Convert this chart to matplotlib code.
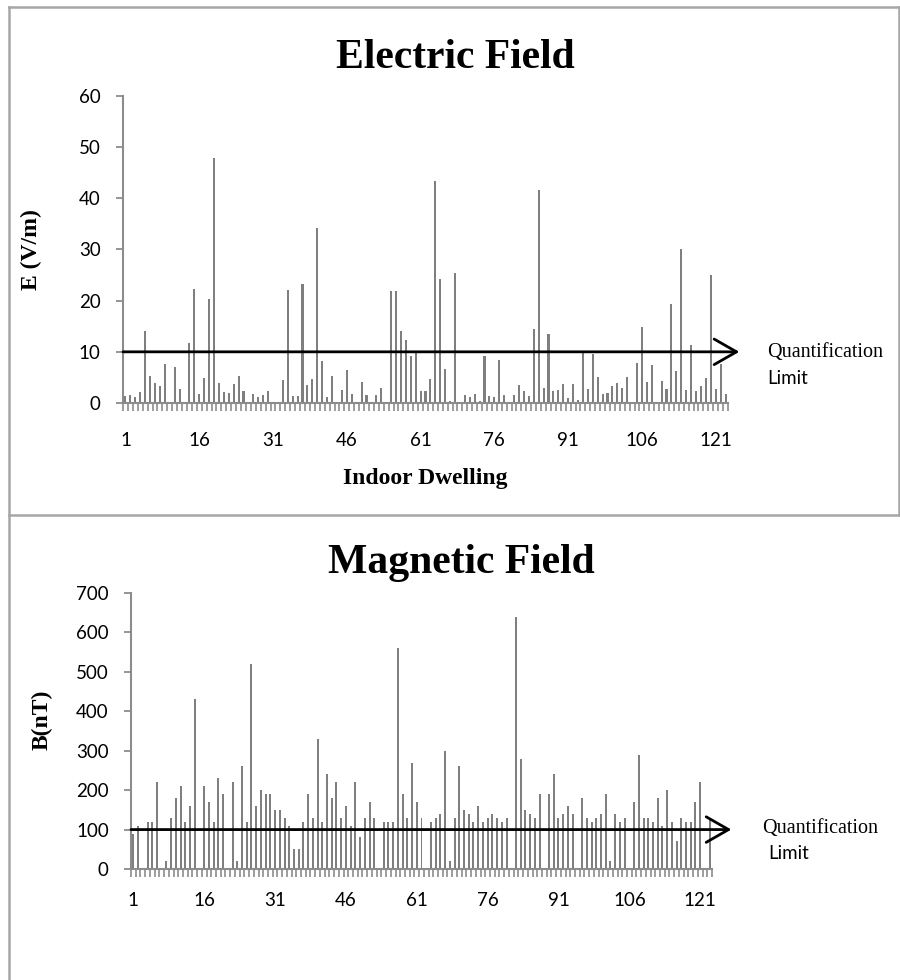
import numpy as np
import matplotlib
matplotlib.use("Agg")
import matplotlib.pyplot as plt
from matplotlib.lines import Line2D

# ---------------- data ----------------
e_values = [1.4, 1.5, 1.2, 2.2, 14.1, 5.2, 3.9, 3.4, 7.7, 0,
            7.1, 2.7, 0, 11.8, 22.3, 1.8, 4.9, 20.3, 47.8, 3.9,
            2.1, 1.9, 3.8, 5.3, 2.3, 0, 1.8, 1.1, 1.6, 2.3,
            0, 0, 4.5, 22.1, 1.3, 1.3, 23.2, 3.6, 4.7, 34.2,
            8.3, 1.2, 5.2, 0, 2.5, 6.5, 1.8, 0, 4.2, 1.6,
            0, 1.5, 3.0, 0, 21.8, 21.8, 14.1, 12.4, 9.2, 9.9,
            2.3, 2.4, 4.7, 43.3, 24.3, 6.7, 0.3, 25.4, 0, 1.6,
            1.2, 1.8, 0.4, 9.1, 1.3, 1.2, 8.5, 1.6, 0, 1.6,
            3.6, 2.3, 1.3, 14.5, 41.7, 2.9, 13.5, 2.4, 2.5, 3.8,
            1.0, 3.8, 0.5, 9.9, 2.7, 9.5, 5.0, 1.8, 1.9, 3.4,
            4.0, 3.0, 5.1, 0.2, 7.8, 14.9, 4.2, 7.5, 0, 4.3,
            2.8, 19.4, 6.2, 30.0, 2.6, 11.4, 2.3, 3.3, 4.9, 25.1,
            2.7, 7.7, 1.8]

b_values = [90, 110, 0, 120, 120, 220, 0, 20, 130, 180,
            210, 120, 160, 430, 0, 210, 170, 120, 230, 190,
            0, 220, 20, 260, 120, 520, 160, 200, 190, 190,
            150, 150, 130, 110, 50, 50, 120, 190, 130, 330,
            120, 240, 180, 220, 130, 160, 110, 220, 80, 130,
            170, 130, 0, 120, 120, 120, 560, 190, 130, 270,
            170, 130, 0, 120, 130, 140, 300, 20, 130, 260,
            150, 140, 120, 160, 120, 130, 140, 130, 120, 130,
            0, 640, 280, 150, 140, 130, 190, 0, 190, 240,
            130, 140, 160, 140, 0, 180, 130, 120, 130, 140,
            190, 20, 140, 120, 130, 0, 170, 290, 130, 130,
            120, 180, 110, 200, 120, 70, 130, 120, 120, 170,
            220, 0, 130]

dwellings = np.arange(1, len(e_values) + 1)
tick_labels = [1, 16, 31, 46, 61, 76, 91, 106, 121]
e_limit = 10
b_limit = 100

# ---------------- style ----------------
W, H = 900, 980
fig = plt.figure(figsize=(W / 100, H / 100), dpi=100)
fig.patch.set_facecolor("white")

serif = ["Liberation Serif", "DejaVu Serif"]
sans = ["Lato", "DejaVu Sans"]
bar_color = "#7f7f7f"
axis_color = "#8c8c8c"


def fx(px):
    return px / W


def fy(py):
    return 1 - py / H


def make_panel(rect, values, ymax, ystep, limit, tip_x, lab_pad):
    ax = fig.add_axes(rect)
    ax.bar(dwellings, values, width=0.42, color=bar_color, linewidth=0)
    n = len(values)
    ax.set_xlim(0.5, n + 0.5)
    ax.set_ylim(0, ymax)
    for s in ["top", "right"]:
        ax.spines[s].set_visible(False)
    for s in ["left", "bottom"]:
        ax.spines[s].set_color(axis_color)
        ax.spines[s].set_linewidth(1.5)
    ax.set_yticks(np.arange(0, ymax + 1, ystep))
    ax.tick_params(axis="y", direction="out", length=5, width=1.3,
                   color=axis_color, pad=11, labelsize=13.5)
    ax.set_xticks(np.arange(0.5, n + 1, 1.0))
    ax.set_xticklabels([])
    ax.set_xticks(tick_labels, minor=True)
    ax.set_xticklabels([str(t) for t in tick_labels], minor=True)
    ax.tick_params(axis="x", which="major", direction="out", length=6,
                   width=1.2, color=axis_color)
    ax.tick_params(axis="x", which="minor", length=0, pad=lab_pad,
                   labelsize=13.5)
    for lab in ax.get_xticklabels(minor=True) + ax.get_yticklabels():
        lab.set_fontfamily(sans)
    ax.annotate("", xy=(tip_x, limit), xytext=(0.5, limit),
                xycoords="data", textcoords="data", annotation_clip=False,
                arrowprops=dict(arrowstyle="->,head_length=0.7,head_width=0.4",
                                lw=2, color="black", mutation_scale=23,
                                shrinkA=0, shrinkB=0))
    return ax


ax1 = make_panel([fx(123), fy(403), fx(728) - fx(123), fy(96) - fy(403)],
                 e_values, 60, 10, e_limit, 125.8, 21)
ax2 = make_panel([fx(131), fy(869), fx(712) - fx(131), fy(593) - fy(869)],
                 b_values, 700, 100, b_limit, 127.6, 16.5)

# titles and labels
fig.text(fx(455), fy(58), "Electric Field", ha="center", va="center",
         fontsize=30, fontweight="bold", family=serif)
fig.text(fx(461), fy(563), "Magnetic Field", ha="center", va="center",
         fontsize=30, fontweight="bold", family=serif)
fig.text(fx(31), fy(250), "E (V/m)", ha="center", va="center", rotation=90,
         fontsize=17, fontweight="bold", family=serif)
fig.text(fx(42), fy(720), "B(nT)", ha="center", va="center", rotation=90,
         fontsize=17, fontweight="bold", family=serif)
fig.text(fx(425), fy(478), "Indoor Dwelling", ha="center", va="center",
         fontsize=17, fontweight="bold", family=serif)

# quantification limit notes
fig.text(fx(767), fy(352), "Quantification", ha="left", va="center",
         fontsize=14.5, family=serif)
fig.text(fx(767), fy(378), "Limit", ha="left", va="center",
         fontsize=13.5, family=sans)
fig.text(fx(762), fy(828), "Quantification", ha="left", va="center",
         fontsize=14.5, family=serif)
fig.text(fx(768), fy(853), "Limit", ha="left", va="center",
         fontsize=13.5, family=sans)

# frame borders
border = "#a6a6a6"
for (x0, y0, x1, y1) in [(9, 7, 9, 980), (9, 7, 900, 7), (9, 515, 900, 515),
                         (899, 7, 899, 515)]:
    fig.add_artist(Line2D([fx(x0), fx(x1)], [fy(y0), fy(y1)],
                          transform=fig.transFigure, color=border, lw=1.8))

fig.savefig("out.png", dpi=100, facecolor="white")
